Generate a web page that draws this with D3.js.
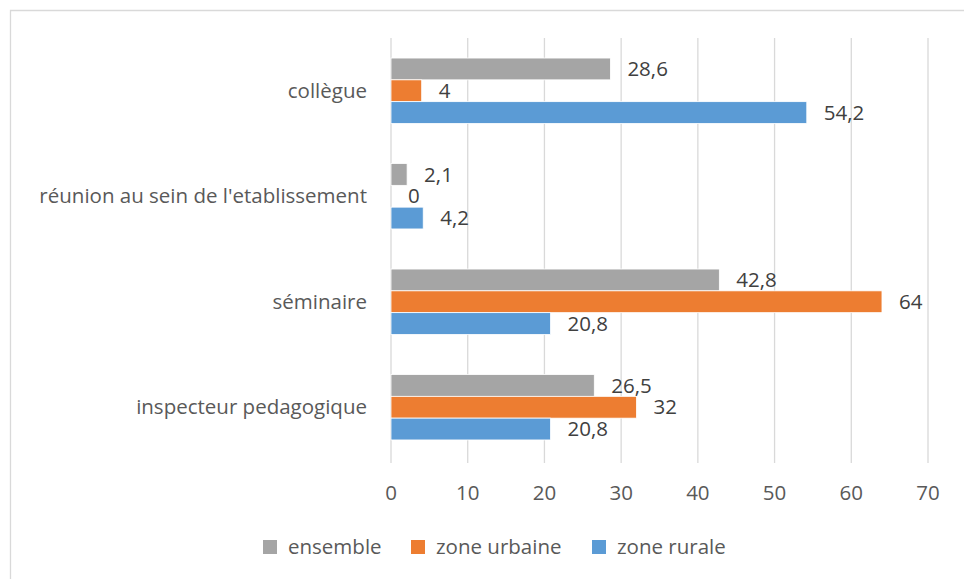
<!DOCTYPE html>
<html>
<head>
<meta charset="utf-8">
<script src="https://cdn.jsdelivr.net/npm/d3@7"></script>
<style>
  body { margin: 0; background: #fff; }
  text { font-family: "Open Sans", sans-serif; fill: #404040; }
</style>
</head>
<body>
<div id="chart"></div>
<script>
// data
var categories = ["collègue", "réunion au sein de l'etablissement", "séminaire", "inspecteur pedagogique"];
var seriesNames = ["ensemble", "zone urbaine", "zone rurale"];
var ensemble = [28.6, 2.1, 42.8, 26.5];
var urbaine = [4, 0, 64, 32];
var rurale = [54.2, 4.2, 20.8, 20.8];
var xTicks = [0, 10, 20, 30, 40, 50, 60, 70];
var colors = ["#A5A5A5", "#ED7D31", "#5B9BD5"];

var svgWidth = 964, svgHeight = 579;
var margin = {top: 38, right: 36, bottom: 119, left: 391};
var width = svgWidth - margin.left - margin.right;
var height = svgHeight - margin.top - margin.bottom;

var svg = d3.select("#chart").append("svg")
  .attr("width", svgWidth)
  .attr("height", svgHeight);

// outer frame (only top and left edges are visible)
svg.append("path")
  .attr("d", `M10.5,${svgHeight} V10.5 H${svgWidth}`)
  .attr("fill", "none").attr("stroke", "#D9D9D9").attr("stroke-width", 1.3);

var chartGroup = svg.append("g")
  .attr("transform", `translate(${margin.left}, ${margin.top})`);

var xScale = d3.scaleLinear().domain([0, 70]).range([0, width]);
var yScale = d3.scaleBand().domain(categories).range([0, height]).paddingInner(0.38).paddingOuter(0.19);
var ySub = d3.scaleBand().domain(seriesNames).range([0, yScale.bandwidth()]);

// grid lines
chartGroup.selectAll(".grid")
  .data(xTicks)
  .enter().append("line")
  .attr("x1", d => xScale(d)).attr("x2", d => xScale(d))
  .attr("y1", 0).attr("y2", height + 3)
  .attr("stroke", "#D9D9D9").attr("stroke-width", 1.3);

var rows = categories.map(function(c, i) {
  return [
    {cat: c, name: seriesNames[0], value: ensemble[i], color: colors[0]},
    {cat: c, name: seriesNames[1], value: urbaine[i], color: colors[1]},
    {cat: c, name: seriesNames[2], value: rurale[i], color: colors[2]}
  ];
});

var groups = chartGroup.selectAll(".grp")
  .data(rows)
  .enter().append("g")
  .attr("transform", d => `translate(0, ${yScale(d[0].cat)})`);

groups.selectAll("rect")
  .data(d => d)
  .enter().append("rect")
  .attr("x", 0)
  .attr("y", d => ySub(d.name))
  .attr("width", d => xScale(d.value))
  .attr("height", ySub.bandwidth())
  .attr("fill", d => d.color)
  .attr("stroke", "#fff").attr("stroke-width", 0.8);

groups.selectAll(".lbl")
  .data(d => d)
  .enter().append("text")
  .attr("x", d => xScale(d.value) + 17)
  .attr("y", d => ySub(d.name) + ySub.bandwidth() / 2)
  .attr("dy", ".35em")
  .style("font-size", "20.5px")
  .text(d => String(d.value).replace(".", ","));

// category labels
chartGroup.selectAll(".cat")
  .data(categories)
  .enter().append("text")
  .attr("x", -24)
  .attr("y", d => yScale(d) + yScale.bandwidth() / 2)
  .attr("dy", ".35em")
  .attr("text-anchor", "end")
  .style("font-size", "20.5px")
  .style("fill", "#595959")
  .text(d => d);

// x tick labels
chartGroup.selectAll(".tick")
  .data(xTicks)
  .enter().append("text")
  .attr("x", d => xScale(d))
  .attr("y", height + 33)
  .attr("dy", ".35em")
  .attr("text-anchor", "middle")
  .style("font-size", "20.5px")
  .style("fill", "#595959")
  .text(d => d);

// legend
var legendX = [263, 411, 592];
var legend = svg.selectAll(".leg")
  .data(seriesNames)
  .enter().append("g")
  .attr("transform", (d, i) => `translate(${legendX[i]}, 540)`);

legend.append("rect")
  .attr("width", 14).attr("height", 14)
  .attr("fill", (d, i) => colors[i]);

legend.append("text")
  .attr("x", 25).attr("y", 7)
  .attr("dy", ".35em")
  .style("font-size", "20.5px")
  .style("fill", "#595959")
  .text(d => d);
</script>
</body>
</html>
